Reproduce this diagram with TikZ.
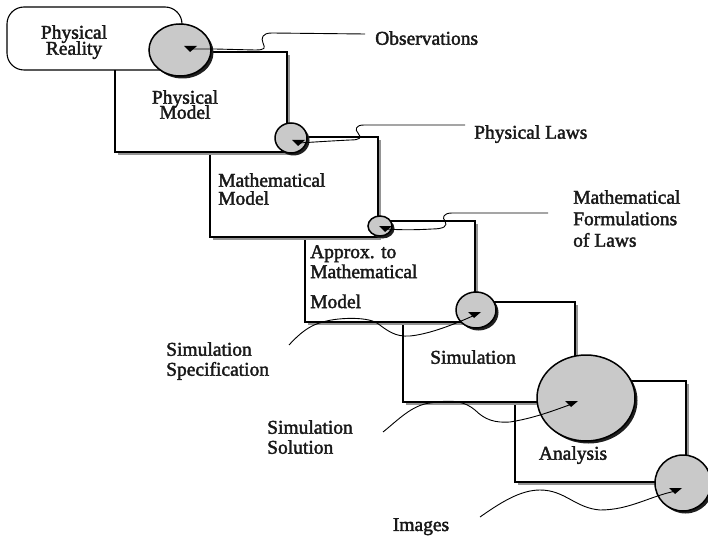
\documentclass[tikz,border=0pt]{standalone}
\usepackage{fontspec}
\setmainfont{Liberation Serif}
\newfontfamily\lblfont{Liberation Serif}[FakeBold=2]
\usetikzlibrary{shapes.geometric}
\newcommand\tipmark[1]{\fill[black] ([shift={(-7,-3)}]#1) -- ([shift={(6,-3)}]#1) -- ([shift={(-1,3)}]#1) -- cycle;}
\newcommand\tightls{\lineskiplimit -100pt\relax}
\newcommand\lblsize[1]{\lblfont\fontsize{19.5}{#1}\selectfont\tightls}
% #1 x0, #2 y0, #3 x1, #4 y1 : shadow of a box
\newcommand\boxshadow[4]{\fill[black!42] (#1+3,#2+3) rectangle (#3+3,#4+3);}
% #1 cx, #2 cy, #3 rx, #4 ry : shadow of a disc
\newcommand\discshadow[4]{\fill[black!88] (#1+2.5,#2+2.5) ellipse [x radius=#3, y radius=#4];}
\begin{document}
\begin{tikzpicture}[x=1pt,y=-1pt,
  boxnode/.style={draw=black, line width=1.1pt, fill=white, rectangle, inner sep=0pt},
  disc/.style={ellipse, draw=black, line width=1.5pt, fill=black!21, inner sep=0pt},
  lbl/.style={inner sep=0pt, text=black!90},
  conn/.style={draw=black, line width=0.9pt}]
\useasboundingbox (0,0) rectangle (708,537);
\fill[white] (0,0) rectangle (708,537);
% boxes, last first
\boxshadow{515}{381}{686}{482}
\node[boxnode, minimum width=171pt, minimum height=101pt] (b6) at (600.5,431.5) {};
\boxshadow{403}{302}{575}{402}
\node[boxnode, minimum width=172pt, minimum height=100pt] (b5) at (489,352) {};
\boxshadow{305}{221}{475}{322}
\node[boxnode, minimum width=170pt, minimum height=101pt] (b4) at (390,271.5) {};
\boxshadow{210}{137}{378}{237}
\node[boxnode, minimum width=168pt, minimum height=100pt] (b3) at (294,187) {};
\boxshadow{115}{52}{287}{152}
\node[boxnode, minimum width=172pt, minimum height=100pt] (b2) at (201,102) {};
\node[draw=black, line width=1.1pt, fill=white, rounded corners=17pt, inner sep=0pt,
  minimum width=175pt, minimum height=63pt] (b1) at (94.5,38.5) {};
% discs
\discshadow{180}{50}{31}{26}
\node[disc, minimum width=62pt, minimum height=52pt] (c1) at (180,50) {};
\discshadow{291}{138}{16}{15}
\node[disc, minimum width=32pt, minimum height=30pt] (c2) at (291,138) {};
\discshadow{380}{226}{12}{10}
\node[disc, minimum width=24pt, minimum height=20pt] (c3) at (380,226) {};
\discshadow{476}{310}{20}{18}
\node[disc, minimum width=40pt, minimum height=36pt] (c4) at (476,310) {};
\discshadow{586}{398}{49}{43}
\node[disc, minimum width=98pt, minimum height=86pt] (c5) at (586,398) {};
\discshadow{683}{483}{28}{28}
\node[disc, minimum width=56pt, minimum height=56pt] (c6) at (683,483) {};
% arrow points
\coordinate (a1) at (191,49);
\coordinate (a2) at (299,143);
\coordinate (a3) at (386,229);
\coordinate (a4) at (475,315);
\coordinate (a5) at (572,404);
\coordinate (a6) at (676,491);
% labels
\begin{scope}[every node/.append style={lbl}]
\node[anchor=north, align=center, font=\lblsize{16}] (tpr) at (74,25) {Physical\\Reality};
\node[anchor=north, align=center, font=\lblsize{15}] (tpm) at (185,90) {Physical\\Model};
\node[anchor=north west, align=left, font=\lblsize{18}] (tmm) at (218,173) {Mathematical\\Model};
\node[anchor=north west, align=left, font=\lblsize{20}] (tap) at (310,245) {Approx. to\\Mathematical\\[10pt]Model};
\node[anchor=north west, font=\lblsize{20}] (tobs) at (375,31) {Observations};
\node[anchor=north west, font=\lblsize{20}] (tpl) at (474,125) {Physical Laws};
\node[anchor=north west, align=left, font=\lblsize{21.5}] (tmf) at (573,190) {Mathematical\\Formulations\\of Laws};
\node[anchor=north west, align=left, font=\lblsize{20}] (tss) at (166,342) {Simulation\\Specification};
\node[anchor=north, font=\lblsize{20}] (tsim) at (473,350) {Simulation};
\node[anchor=north west, align=left, font=\lblsize{20}] (tsol) at (267,420) {Simulation\\Solution};
\node[anchor=north, font=\lblsize{20}] (tan) at (573,446) {Analysis};
\node[anchor=north, font=\lblsize{20}] (tim) at (421,518) {Images};
\end{scope}
% free ends of connectors
\coordinate (e1) at (365,34);
\coordinate (e2) at (465,125);
\coordinate (e3) at (548,213);
\coordinate (e4) at (289,345);
\coordinate (e5) at (383,432);
\coordinate (e6) at (480,517);
% connectors
\draw[conn] (e1) -- (272,33) .. controls (262,33) and (261,38) .. (263,43)
  .. controls (265,48) and (266,50) .. (255,50) -- (215,49) -- (a1);
\draw[conn] (e2) -- (364,125) .. controls (355,125) and (355,130) .. (358,133)
  .. controls (362,138) and (360,140) .. (350,140) .. controls (330,141) and (315,142) .. (a2);
\draw[conn] (e3) -- (452,213) .. controls (443,213) and (442,218) .. (445,221)
  .. controls (448,226) and (444,229) .. (432,229) .. controls (415,230) and (400,230) .. (a3);
\draw[conn] (e4) .. controls (300,333) and (310,325) .. (323,322)
  .. controls (335,318) and (365,316) .. (377,323)
  .. controls (388,331) and (395,337) .. (410,336)
  .. controls (430,334) and (455,324) .. (a4);
\draw[conn] (e5) .. controls (398,420) and (412,405) .. (430,403)
  .. controls (455,399) and (465,402) .. (475,410)
  .. controls (485,420) and (495,423) .. (510,422)
  .. controls (535,418) and (555,410) .. (a5);
\draw[conn] (e6) .. controls (500,503) and (520,490) .. (540,490)
  .. controls (565,490) and (575,508) .. (600,510)
  .. controls (630,510) and (650,496) .. (a6);
% arrow marks
\tipmark{a1}
\tipmark{a2}
\tipmark{a3}
\tipmark{a4}
\tipmark{a5}
\tipmark{a6}
\end{tikzpicture}
\end{document}
